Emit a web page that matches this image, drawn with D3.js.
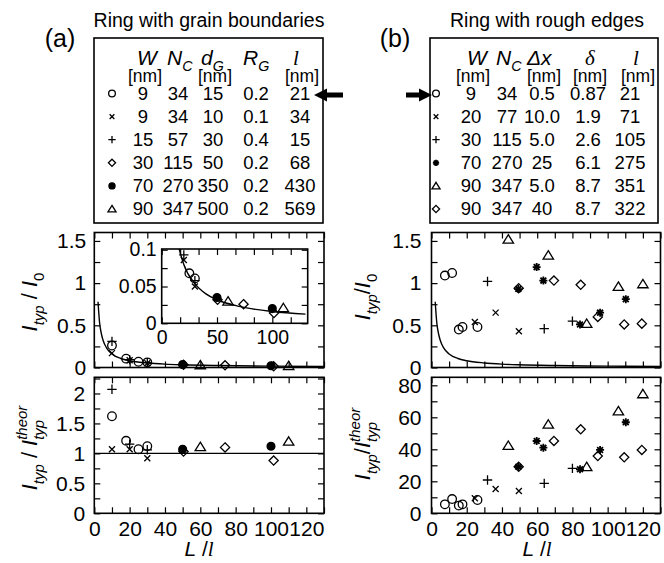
<!DOCTYPE html>
<html>
<head>
<meta charset="utf-8">
<script src="https://cdn.jsdelivr.net/npm/d3@7"></script>
<style>
body { margin: 0; background: white; }
svg text { font-family: "Liberation Sans", Arial, Helvetica, sans-serif; }
</style>
</head>
<body>
<div id="figure"></div>
<script>
// (a) anneau avec joints de grains
var titreA = "Ring with grain boundaries";
var symbolesA = ["rond", "croix", "plus", "losange", "disque", "triangle"];
var enTetesA = [["W", ""], ["N", "C"], ["d", "G"], ["R", "G"], ["l", ""]];
var unitesA = ["[nm]", "", "[nm]", "", "[nm]"];
var tableauA = [
    ["9", "34", "15", "0.2", "21"],
    ["9", "34", "10", "0.1", "34"],
    ["15", "57", "30", "0.4", "15"],
    ["30", "115", "50", "0.2", "68"],
    ["70", "270", "350", "0.2", "430"],
    ["90", "347", "500", "0.2", "569"]
];

// (b) anneau avec bords rugueux
var titreB = "Ring with rough edges";
var symbolesB = ["rond", "croix", "plus", "etoile", "triangle", "losange"];
var enTetesB = [["W", ""], ["N", "C"], ["\u0394x", ""], ["\u03b4", ""], ["l", ""]];
var unitesB = ["[nm]", "", "[nm]", "[nm]", "[nm]"];
var tableauB = [
    ["9", "34", "0.5", "0.87", "21"],
    ["20", "77", "10.0", "1.9", "71"],
    ["30", "115", "5.0", "2.6", "105"],
    ["70", "270", "25", "6.1", "275"],
    ["90", "347", "5.0", "8.7", "351"],
    ["90", "347", "40", "8.7", "322"]
];

// points : [symbole, L/l, I_typ/I_0, I_typ/I_typ^theor]
var pointsA = [
    ["rond", 10, 0.26, 1.62], ["rond", 18, 0.105, 1.21], ["rond", 25, 0.068, 1.07], ["rond", 30, 0.061, 1.12],
    ["croix", 10, 0.17, 1.07], ["croix", 20, 0.086, 1.07], ["croix", 30, 0.05, 0.92],
    ["plus", 10, 0.31, 2.07], ["plus", 20, 0.093, 1.155], ["plus", 30, 0.058, 1.06],
    ["losange", 50.5, 0.032, 1.03], ["losange", 74, 0.026, 1.1], ["losange", 101.5, 0.014, 0.88],
    ["disque", 50, 0.035, 1.07], ["disque", 100, 0.02, 1.12],
    ["triangle", 60, 0.03, 1.11], ["triangle", 110, 0.021, 1.2]
];
var pointsB = [
    ["rond", 7.6, 1.09, 5.6], ["rond", 11.7, 1.12, 8.9], ["rond", 15.5, 0.45, 4.8], ["rond", 17.6, 0.48, 5.6], ["rond", 26.1, 0.48, 8.3],
    ["croix", 24.6, 0.54, 9.4], ["croix", 36.4, 0.65, 15.2], ["croix", 49.6, 0.43, 13.9],
    ["plus", 31.8, 1.02, 20.8], ["plus", 64, 0.46, 18.7], ["plus", 80, 0.55, 28.1],
    ["etoile", 49.3, 0.93, 29.1], ["etoile", 59.7, 1.19, 45.2], ["etoile", 63.5, 1.03, 41], ["etoile", 84.3, 0.51, 27.5], ["etoile", 95.7, 0.65, 39.6], ["etoile", 110.3, 0.81, 56.9],
    ["triangle", 43.6, 1.52, 42.3], ["triangle", 66.3, 1.33, 55.6], ["triangle", 88.1, 0.52, 29.1], ["triangle", 106.1, 0.96, 63.9], ["triangle", 120, 0.99, 74.6],
    ["losange", 49.5, 0.94, 29.1], ["losange", 69.5, 1.03, 45.2], ["losange", 84.7, 0.98, 52.5], ["losange", 94.4, 0.6, 35.8], ["losange", 109.4, 0.51, 35], ["losange", 119.4, 0.52, 39.6]
];

// courbe theorique : [L/l, I_typ/I_0]
var courbeTheorique = [
    [2.1, 0.78], [3, 0.53], [4, 0.4], [5, 0.32], [7, 0.23], [10, 0.16], [15, 0.107],
    [20, 0.08], [30, 0.054], [40, 0.04], [50, 0.032], [70, 0.023], [100, 0.016], [130, 0.0125]
];
var ligneUnite = [[0, 1], [130, 1]];

// graduations
var ticksX = d3.range(0, 131, 10);
var labelsX = [0, 20, 40, 60, 80, 100, 120];
var ticksHaut = d3.range(0, 1.51, 0.25);
var labelsHaut = [0, 0.5, 1, 1.5];
var ticksBasA = d3.range(0, 2.26, 0.25);
var labelsBasA = [0, 0.5, 1, 1.5, 2];
var ticksBasB = d3.range(0, 81, 10);
var labelsBasB = [0, 20, 40, 60, 80];
var ticksEncartX = d3.range(0, 131, 50 / 3);
var labelsEncartX = [0, 50, 100];
var ticksEncartY = d3.range(0, 0.101, 0.025);
var labelsEncartY = [0, 0.05, 0.1];

var svg = d3.select("#figure").append("svg").attr("width", 664).attr("height", 563);

function dessineSymbole(g, type, x, y, k) {
    var s = g.append("g")
        .attr("transform", "translate(" + x + "," + y + ") scale(" + k + ")")
        .attr("stroke", "black")
        .attr("stroke-width", 1.3 / k)
        .attr("fill", "none");
    if (type == "rond") s.append("circle").attr("r", 4.3);
    else if (type == "disque") s.append("circle").attr("r", 3.9).attr("fill", "black");
    else if (type == "croix") s.append("path").attr("d", "M-3,-3L3,3M-3,3L3,-3");
    else if (type == "plus") s.append("path").attr("d", "M-4.7,0H4.7M0,-4.7V4.7");
    else if (type == "losange") s.append("path").attr("d", "M0,-4.6L4.6,0L0,4.6L-4.6,0Z");
    else if (type == "triangle") s.append("path").attr("d", "M0,-4.6L5.2,3.8L-5.2,3.8Z");
    else if (type == "etoile")
        s.append("path")
            .attr("d", "M-4,0H4M0,-4V4M-2.9,-2.9L2.9,2.9M-2.9,2.9L2.9,-2.9")
            .attr("stroke-width", 1.8 / k);
}

function estDans(d, liste) {
    return liste.some(function (v) { return Math.abs(v - d) < 1e-9; });
}

function texteRiche(t, morceaux, taille) {
    var decalage = 0;
    var largeurPrec = 0;
    morceaux.forEach(function (m) {
        var cible = m.pos == "sub" ? taille * 0.3 : m.pos == "sup" ? -taille * 0.45 : 0;
        var ts = t.append("tspan")
            .text(m.t)
            .attr("dy", cible - decalage)
            .attr("font-size", m.pos ? taille * 0.68 : taille)
            .attr("font-style", m.i ? "italic" : "normal");
        if (m.serif) ts.attr("font-family", "Liberation Serif, serif");
        if (m.empile) ts.attr("dx", -largeurPrec);
        largeurPrec = ts.node().getComputedTextLength();
        decalage = cible;
    });
}

function cadre(x, y, tx, lx, ty, ly, taille, padX, padY) {
    var g = svg.append("g");
    var x0 = x.range()[0], x1 = x.range()[1], y0 = y.range()[0], y1 = y.range()[1];
    g.append("rect")
        .attr("x", x0).attr("y", y1)
        .attr("width", x1 - x0).attr("height", y0 - y1)
        .attr("fill", "white");
    var fmt = function (liste) {
        return function (d) { return estDans(d, liste) ? String(+d.toFixed(4)) : ""; };
    };
    var axes = [
        [d3.axisBottom(x).tickValues(tx).tickFormat(fmt(lx)).tickPadding(padX), "translate(0," + y0 + ")"],
        [d3.axisTop(x).tickValues(tx).tickFormat(""), "translate(0," + y1 + ")"],
        [d3.axisLeft(y).tickValues(ty).tickFormat(fmt(ly)).tickPadding(padY), "translate(" + x0 + ",0)"],
        [d3.axisRight(y).tickValues(ty).tickFormat(""), "translate(" + x1 + ",0)"]
    ];
    axes.forEach(function (a) {
        var ga = g.append("g")
            .attr("transform", a[1])
            .call(a[0].tickSizeInner(-6).tickSizeOuter(0));
        ga.select(".domain").remove();
        ga.selectAll("line").attr("stroke", "black").attr("stroke-width", 1.2);
        ga.selectAll("text")
            .attr("font-size", taille)
            .attr("font-family", "Liberation Sans, Arial, sans-serif")
            .attr("fill", "black");
    });
    g.append("rect")
        .attr("x", x0).attr("y", y1)
        .attr("width", x1 - x0).attr("height", y0 - y1)
        .attr("fill", "none")
        .attr("stroke", "black")
        .attr("stroke-width", 1.6);
    return g;
}

var nbClip = 0;
function courbe(x, y, donnees) {
    var id = "clip" + (nbClip++);
    svg.append("clipPath").attr("id", id)
        .append("rect")
        .attr("x", x.range()[0]).attr("y", y.range()[1])
        .attr("width", x.range()[1] - x.range()[0])
        .attr("height", y.range()[0] - y.range()[1]);
    svg.append("path")
        .datum(donnees)
        .attr("clip-path", "url(#" + id + ")")
        .attr("fill", "none")
        .attr("stroke", "black")
        .attr("stroke-width", 1.4)
        .attr("d", d3.line()
            .x(function (d) { return x(d[0]); })
            .y(function (d) { return y(d[1]); })
            .curve(d3.curveMonotoneX));
}

function points(x, y, donnees, col, ymax) {
    donnees.forEach(function (p) {
        if (p[col] <= ymax) dessineSymbole(svg, p[0], x(p[1]), y(p[col]), 1);
    });
}

function tableau(x0, x1, titre, cx, etiquette, ex, symboles, enTetes, posTetes, unites, posCols, posSymb, lignes) {
    svg.append("text")
        .attr("x", cx).attr("y", 27)
        .attr("text-anchor", "middle")
        .attr("font-size", 19.5)
        .text(titre);
    svg.append("text")
        .attr("x", ex).attr("y", 47)
        .attr("text-anchor", "middle")
        .attr("font-size", 25)
        .text(etiquette);
    svg.append("rect")
        .attr("x", x0).attr("y", 38)
        .attr("width", x1 - x0).attr("height", 185)
        .attr("fill", "none")
        .attr("stroke", "black")
        .attr("stroke-width", 1.6);
    enTetes.forEach(function (e, i) {
        var t = svg.append("text").attr("x", posTetes[i]).attr("y", 65);
        var serif = e[0] == "l" || e[0] == "\u03b4";
        texteRiche(t, [{ t: e[0], i: 1, serif: serif }].concat(e[1] ? [{ t: e[1], i: 1, pos: "sub" }] : []), 21);
    });
    unites.forEach(function (u, i) {
        svg.append("text")
            .attr("x", posCols[i] + (i == 4 && x0 > 300 ? 8 : 2)).attr("y", 82)
            .attr("text-anchor", "middle")
            .attr("font-size", 17.5)
            .text(u);
    });
    lignes.forEach(function (ligne, r) {
        var yl = 99.5 + r * 23.1;
        dessineSymbole(svg, symboles[r], posSymb, yl - 6, 0.78);
        ligne.forEach(function (v, c) {
            svg.append("text")
                .attr("x", posCols[c]).attr("y", yl)
                .attr("text-anchor", "middle")
                .attr("font-size", 18.5)
                .text(v);
        });
    });
}

// ---- tableaux
tableau(94, 323, titreA, 209, "(a)", 60, symbolesA, enTetesA,
    [137, 167, 201, 243, 293], unitesA, [143, 178, 213, 256, 300], 112, tableauA);
tableau(430, 658, titreB, 547, "(b)", 395, symbolesB, enTetesB,
    [467, 496, 527, 585, 633], unitesB, [471, 507, 542, 588, 630], 436, tableauB);

// fleches
svg.append("path")
    .attr("d", "M314,95L327,88.5L327,92.5L343,92.5L343,97.5L327,97.5L327,101.5Z")
    .attr("fill", "black");
svg.append("path")
    .attr("d", "M432,95L419,88.5L419,92.5L406,92.5L406,97.5L419,97.5L419,101.5Z")
    .attr("fill", "black");

// ---- echelles
var xA = d3.scaleLinear().domain([0, 130]).range([94.3, 324]);
var xB = d3.scaleLinear().domain([0, 130]).range([431.5, 660.5]);
var yHautA = d3.scaleLinear().domain([0, 1.6]).range([367.5, 232.5]);
var yHautB = d3.scaleLinear().domain([0, 1.6]).range([367.5, 232.5]);
var yBasA = d3.scaleLinear().domain([0, 2.27]).range([513.3, 377.3]);
var yBasB = d3.scaleLinear().domain([0, 85]).range([513.3, 377.3]);
var xEncart = d3.scaleLinear().domain([0, 132]).range([161.7, 307.7]);
var yEncart = d3.scaleLinear().domain([0, 0.101]).range([323.3, 249]);

// (a) haut
cadre(xA, yHautA, ticksX, [], ticksHaut, labelsHaut, 21, 9, 8);
courbe(xA, yHautA, courbeTheorique);
points(xA, yHautA, pointsA, 2, 1.6);
// encart
cadre(xEncart, yEncart, ticksEncartX, labelsEncartX, ticksEncartY, labelsEncartY, 19.5, 7, 5);
courbe(xEncart, yEncart, courbeTheorique);
points(xEncart, yEncart, pointsA, 2, 0.1);

// (a) bas
cadre(xA, yBasA, ticksX, labelsX, ticksBasA, labelsBasA, 21, 8, 9);
courbe(xA, yBasA, ligneUnite);
points(xA, yBasA, pointsA, 3, 2.27);

// (b) haut et bas
cadre(xB, yHautB, ticksX, [], ticksHaut, labelsHaut, 21, 9, 10);
courbe(xB, yHautB, courbeTheorique);
points(xB, yHautB, pointsB, 2, 1.6);
cadre(xB, yBasB, ticksX, labelsX, ticksBasB, labelsBasB, 21, 8, 10);
points(xB, yBasB, pointsB, 3, 85);

// ---- titres des axes
function etiquetteY(x, y, morceaux) {
    var t = svg.append("text")
        .attr("transform", "translate(" + x + "," + y + ") rotate(-90)")
        .attr("text-anchor", "middle");
    texteRiche(t, morceaux, 22);
}
etiquetteY(37, 302, [{ t: "I", i: 1 }, { t: "typ", i: 1, pos: "sub" }, { t: " / " }, { t: "I", i: 1 }, { t: "0", pos: "sub" }]);
etiquetteY(370, 297, [{ t: "I", i: 1 }, { t: "typ", i: 1, pos: "sub" }, { t: "/" }, { t: "I", i: 1 }, { t: "0", pos: "sub" }]);
etiquetteY(37, 448, [{ t: "I", i: 1 }, { t: "typ", i: 1, pos: "sub" }, { t: " / " }, { t: "I", i: 1 }, { t: "typ", i: 1, pos: "sub" }, { t: "theor", i: 1, pos: "sup", empile: 1 }]);
etiquetteY(370, 444, [{ t: "I", i: 1 }, { t: "typ", i: 1, pos: "sub" }, { t: "/" }, { t: "I", i: 1 }, { t: "typ", i: 1, pos: "sub" }, { t: "theor", i: 1, pos: "sup", empile: 1 }]);

[[199, xA], [537, xB]].forEach(function (e) {
    var t = svg.append("text")
        .attr("x", e[0]).attr("y", 556)
        .attr("text-anchor", "middle");
    texteRiche(t, [{ t: "L", i: 1 }, { t: " /" }, { t: "l", i: 1, serif: 1 }], 21);
});
</script>
</body>
</html>
